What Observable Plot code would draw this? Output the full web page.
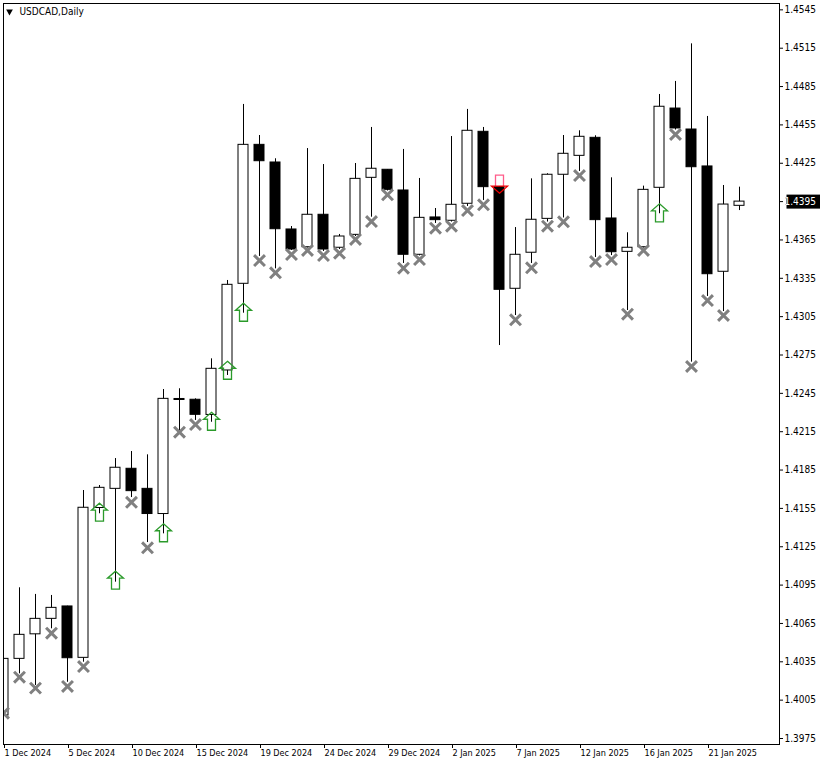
<!DOCTYPE html>
<html><head><meta charset="utf-8">
<script src="https://cdn.jsdelivr.net/npm/d3@7"></script>
<script src="https://cdn.jsdelivr.net/npm/@observablehq/plot@0.6"></script>
<style>
html,body{margin:0;padding:0;background:#fff;}
</style>
</head><body><div id="chart"></div>
<script>
const title = "USDCAD,Daily";
const dates = ["2024-12-01","2024-12-02","2024-12-03","2024-12-04","2024-12-05","2024-12-06","2024-12-08","2024-12-09","2024-12-10","2024-12-11","2024-12-12","2024-12-13","2024-12-15","2024-12-16","2024-12-17","2024-12-18","2024-12-19","2024-12-20","2024-12-22","2024-12-23","2024-12-24","2024-12-25","2024-12-26","2024-12-27","2024-12-29","2024-12-30","2024-12-31","2025-01-01","2025-01-02","2025-01-03","2025-01-05","2025-01-06","2025-01-07","2025-01-08","2025-01-09","2025-01-10","2025-01-12","2025-01-13","2025-01-14","2025-01-15","2025-01-16","2025-01-17","2025-01-19","2025-01-20","2025-01-21","2025-01-22","2025-01-23"];
const open = [1.39930,1.40373,1.40565,1.40686,1.40783,1.40381,1.41553,1.41703,1.41860,1.41703,
1.41506,1.42406,1.42400,1.42281,1.42629,1.43307,1.44394,1.44256,1.43732,1.43593,
1.43847,1.43589,1.43690,1.44136,1.44199,1.44037,1.43534,1.43826,1.43800,1.43933,
1.44496,1.44063,1.43268,1.43550,1.43815,1.44160,1.44308,1.44449,1.43818,1.43557,
1.43593,1.44058,1.44678,1.44514,1.44225,1.43401,1.43917];
const high = [1.40452,1.40929,1.40877,1.40869,1.40785,1.41690,1.41729,1.41940,1.41995,1.41969,
1.42480,1.42486,1.42407,1.42720,1.43333,1.44710,1.44467,1.44285,1.43755,1.44365,
1.44240,1.43693,1.44248,1.44530,1.44201,1.44358,1.44131,1.43896,1.44459,1.44671,
1.44530,1.44068,1.43747,1.44128,1.44168,1.44467,1.44504,1.44465,1.44136,1.43706,
1.44071,1.44788,1.44890,1.45184,1.44616,1.44076,1.44063];
const low = [1.39920,1.40256,1.40165,1.40608,1.40190,1.40347,1.41508,1.40973,1.41635,1.41283,
1.41351,1.42159,1.42238,1.42224,1.42590,1.43077,1.43521,1.43424,1.43568,1.43587,
1.43560,1.43575,1.43677,1.43828,1.44033,1.43466,1.43525,1.43779,1.43790,1.43912,
1.43959,1.42824,1.43059,1.43466,1.43790,1.43822,1.44186,1.43513,1.43528,1.43098,
1.43587,1.43855,1.44510,1.42694,1.43208,1.43090,1.43880];
const close = [1.40373,1.40561,1.40686,1.40772,1.40378,1.41555,1.41711,1.41868,1.41685,1.41506,
1.42407,1.42398,1.42282,1.42642,1.43299,1.44394,1.44266,1.43734,1.43575,1.43847,
1.43575,1.43677,1.44128,1.44207,1.44042,1.43534,1.43823,1.43805,1.43925,1.44504,
1.44063,1.43260,1.43534,1.43808,1.44160,1.44324,1.44457,1.43805,1.43554,1.43589,
1.44042,1.44692,1.44522,1.44219,1.43382,1.43927,1.43950];
// gray cross markers (bar index, price)
const crossIdx = [0,1,2,3,4,5,8,9,11,12,16,17,18,19,20,21,22,23,24,25,26,27,28,29,30,32,33,34,35,36,37,38,39,40,42,43,44,45];
const crossVal = [1.39948,1.40230,1.40144,1.40574,1.40157,1.40313,1.41598,1.41242,1.42146,1.42206,
1.43489,1.43393,1.43536,1.43568,1.43528,1.43546,1.43654,1.43794,1.44003,1.43429,
1.43497,1.43742,1.43758,1.43880,1.43925,1.43025,1.43432,1.43758,1.43792,1.44154,
1.43481,1.43497,1.43069,1.43568,1.44475,1.42660,1.43176,1.43059];
// green buy arrows (bar index, tip price)
const buyIdx = [6,7,10,13,14,15,41];
const buyVal = [1.41591,1.41059,1.41430,1.42302,1.42701,1.43155,1.43933];
// red sell arrow (bar index, tip price)
const sellIdx = [31];
const sellVal = [1.44016];
const xTickIdx = [0,4,8,12,16,20,24,28,32,36,40,44];
const yTicks = [1.3975,1.4005,1.4035,1.4065,1.4095,1.4125,1.4155,1.4185,1.4215,1.4245,1.4275,1.4305,1.4335,1.4365,1.4395,1.4425,1.4455,1.4485,1.4515,1.4545];
const lastPrice = 1.4395;
const yDomain = [1.397031, 1.454997];
const xDomain = [0, 48.5];

const parse = d3.utcParse("%Y-%m-%d");
const fmt = d3.utcFormat("%-d %b %Y");
const bars = dates.map((d, i) => ({i, date: parse(d), open: open[i], high: high[i], low: low[i], close: close[i], up: close[i] >= open[i]}));
const crosses = crossIdx.map((i, k) => ({i, v: crossVal[k]}));
const buys = buyIdx.map((i, k) => ({i, v: buyVal[k]}));
const sells = sellIdx.map((i, k) => ({i, v: sellVal[k]}));

const arrowUp = {draw(ctx) {
  ctx.moveTo(0, 0); ctx.lineTo(8, 7); ctx.lineTo(4, 7); ctx.lineTo(4, 18);
  ctx.lineTo(-4, 18); ctx.lineTo(-4, 7); ctx.lineTo(-8, 7); ctx.closePath();
}};
const sellHead = {draw(ctx) {
  ctx.moveTo(0, 0); ctx.lineTo(8, -7); ctx.lineTo(-8, -7); ctx.closePath();
}};
const sellShaft = {draw(ctx) {
  ctx.moveTo(-4, -7); ctx.lineTo(-4, -18); ctx.lineTo(4, -18); ctx.lineTo(4, -7);
}};

const font = "'DejaVu Sans Condensed', 'DejaVu Sans', sans-serif";

const chart = Plot.plot({
  width: 820, height: 765,
  marginTop: 3, marginLeft: 3, marginRight: 41, marginBottom: 21,
  style: {fontFamily: font, fontSize: "10px", color: "black", background: "white"},
  x: {type: "linear", domain: xDomain, axis: null},
  y: {type: "linear", domain: yDomain, axis: null},
  marks: [
    Plot.ruleX(bars, {x: "i", y1: "low", y2: "high", stroke: "black", strokeWidth: 1, clip: true}),
    Plot.rect(bars, {x1: d => d.i - 0.5, x2: d => d.i + 0.5, y1: "open", y2: "close",
      insetLeft: 3, insetRight: 3, fill: d => d.up ? "white" : "black", stroke: "black", strokeWidth: 1, clip: true}),
    Plot.dot(crosses, {x: "i", y: "v", symbol: "times", r: 5, stroke: "#808080", strokeWidth: 3, clip: true}),
    Plot.dot(buys, {x: "i", y: "v", symbol: arrowUp, stroke: "#2a9a2a", strokeWidth: 1.3, fill: "none", clip: true}),
    Plot.dot(sells, {x: "i", y: "v", symbol: sellShaft, stroke: "#ff5c8a", strokeWidth: 1.3, fill: "none", clip: true}),
    Plot.dot(sells, {x: "i", y: "v", symbol: sellHead, stroke: "#ee0000", strokeWidth: 1.3, fill: "none", clip: true}),
    Plot.frame({stroke: "black"}),
    Plot.axisY({anchor: "right", ticks: yTicks, tickFormat: d => d.toFixed(4), tickSize: 3, tickPadding: 2, label: null}),
    Plot.axisX({anchor: "bottom", ticks: xTickIdx, tickFormat: i => fmt(bars[i].date), tickSize: 4, tickPadding: 1, textAnchor: "start", dx: 1, fontSize: 9, label: null}),
    Plot.text([lastPrice], {
      y: d => d, frameAnchor: "right", dx: 5, textAnchor: "start", fill: "white", text: d => d.toFixed(4),
      render(index, scales, values, dimensions, context, next) {
        const g = next(index, scales, values, dimensions, context);
        const yy = scales.y(lastPrice);
        const r = d3.create("svg:rect")
          .attr("x", dimensions.width - dimensions.marginRight + 2)
          .attr("y", yy - 7).attr("width", 36).attr("height", 14).attr("fill", "black");
        g.insertBefore(r.node(), g.firstChild);
        return g;
      }
    }),
    Plot.dot([title], {frameAnchor: "top-left", dx: 6, dy: 8, symbol: "triangle", r: 2.5, rotate: 180, fill: "black", stroke: "none"}),
    Plot.text([title], {frameAnchor: "top-left", dx: 16, dy: 8, textAnchor: "start", lineAnchor: "middle", text: d => d, fill: "black"})
  ]
});
document.getElementById("chart").appendChild(chart);
</script>
</body></html>
